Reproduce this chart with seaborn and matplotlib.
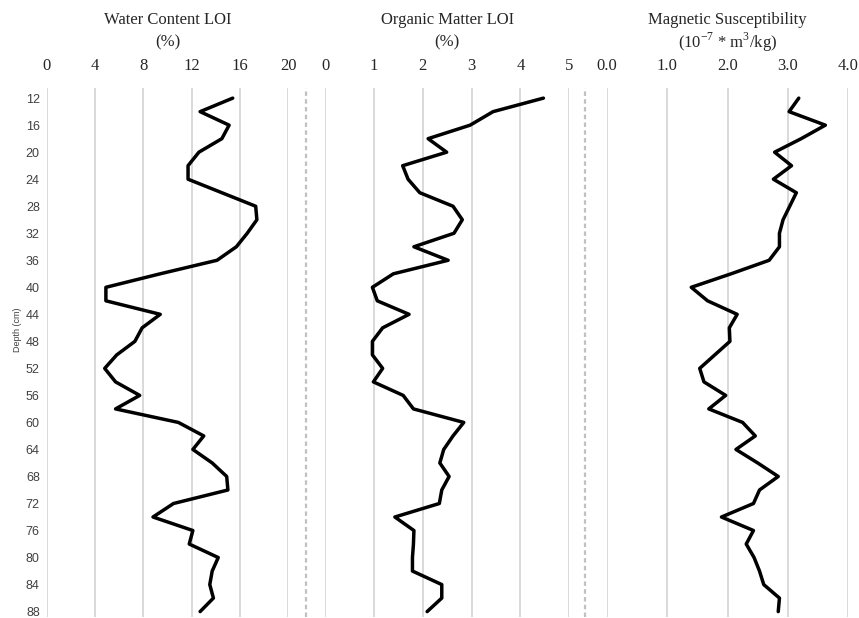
import numpy as np
import pandas as pd
import matplotlib
matplotlib.use("Agg")
import matplotlib.pyplot as plt
import seaborn as sns
from matplotlib.lines import Line2D

# ---------------- data ----------------
depth = list(range(12, 89, 2))
water_content = [15.4, 12.7, 15.1, 14.5, 12.6, 11.7, 11.7, 14.5, 17.3, 17.4,
                 16.6, 15.7, 14.1, 9.4, 4.9, 4.9, 9.4, 7.9, 7.3, 5.8,
                 4.8, 5.7, 7.7, 5.7, 10.9, 13.0, 12.1, 13.7, 14.9, 15.0,
                 10.5, 8.8, 12.1, 11.8, 14.2, 13.7, 13.5, 13.8, 12.7]
organic_matter = [4.47, 3.44, 2.97, 2.11, 2.49, 1.59, 1.70, 1.94, 2.62, 2.81,
                  2.64, 1.82, 2.52, 1.40, 0.97, 1.07, 1.72, 1.18, 0.97, 0.97,
                  1.18, 0.99, 1.60, 1.81, 2.84, 2.62, 2.43, 2.35, 2.54, 2.39,
                  2.34, 1.43, 1.82, 1.81, 1.79, 1.79, 2.39, 2.39, 2.09]
mag_sus = [3.18, 3.02, 3.62, 3.22, 2.78, 3.06, 2.76, 3.14, 3.03, 2.92,
           2.86, 2.86, 2.69, 2.06, 1.40, 1.67, 2.16, 2.03, 2.04, 1.79,
           1.54, 1.61, 1.97, 1.69, 2.25, 2.46, 2.14, 2.50, 2.84, 2.53,
           2.43, 1.90, 2.43, 2.31, 2.44, 2.53, 2.60, 2.86, 2.84]

title_line1 = ["Water Content LOI", "Organic Matter LOI", "Magnetic Susceptibility"]
title_line2 = ["(%)", "(%)",
               "(10$^{\\mathregular{-7}}$ * m$^{\\mathregular{3}}$/kg)"]
x_ticks = [[0, 4, 8, 12, 16, 20], [0, 1, 2, 3, 4, 5], [0, 1, 2, 3, 4]]
x_ticklabels = [["0", "4", "8", "12", "16", "20"],
                ["0", "1", "2", "3", "4", "5"],
                ["0.0", "1.0", "2.0", "3.0", "4.0"]]
depth_ticks = list(range(12, 89, 4))
depth_label = "Depth (cm)"

df = pd.DataFrame({"depth": depth, "wc": water_content,
                   "om": organic_matter, "ms": mag_sus})
cols = ["wc", "om", "ms"]

# ---------------- style ----------------
sns.set_theme(style="white")
plt.rcParams["font.family"] = ["Liberation Serif", "DejaVu Serif"]
plt.rcParams["mathtext.fontset"] = "custom"
plt.rcParams["mathtext.rm"] = "Liberation Serif"
plt.rcParams["axes.unicode_minus"] = False

W, H = 859, 618
fig = plt.figure(figsize=(W / 100, H / 100), dpi=100)

extents = [(46.7, 288.3), (325.0, 569.3), (606.7, 848.3)]
top_px, bot_px = 88, 617
ylim = (88.8, 10.5)

grid_col = "#d9d9d9"
text_col = "#262626"
for i, (l, r) in enumerate(extents):
    ax = fig.add_axes([l / W, 1 - bot_px / H, (r - l) / W, (bot_px - top_px) / H])
    sns.lineplot(data=df, x=cols[i], y="depth", orient="y", sort=False,
                 color="black", linewidth=2.5, ax=ax, estimator=None)
    ax.set_xlim(x_ticks[i][0], x_ticks[i][-1])
    ax.set_ylim(*ylim)
    ax.xaxis.tick_top()
    ax.set_xticks(x_ticks[i])
    ax.set_xticklabels(x_ticklabels[i], fontsize=12, color=text_col)
    ax.tick_params(axis="x", length=0, pad=10)
    for s in ax.spines.values():
        s.set_visible(False)
    ax.grid(axis="x", color=grid_col, linewidth=1.4)
    ax.grid(axis="y", visible=False)
    ax.set_xlabel("")
    ax.set_ylabel("")
    ax.set_yticks(depth_ticks)
    if i == 0:
        ax.set_yticklabels([str(d) for d in depth_ticks], fontsize=9,
                           family="Liberation Sans", color="#404040")
        ax.tick_params(axis="y", length=0, pad=5)
    else:
        ax.set_yticklabels([])
        ax.tick_params(axis="y", length=0)
    cx = (l + r) / 2 / W
    fig.text(cx, 1 - 20 / H, title_line1[i], ha="center", va="center",
             fontsize=12, color=text_col)
    fig.text(cx, 1 - 42 / H, title_line2[i], ha="center", va="center",
             fontsize=12, color=text_col)

for xp in (306, 585):
    fig.add_artist(Line2D([xp / W, xp / W], [1 - bot_px / H, 1 - top_px / H],
                          transform=fig.transFigure, color="#c0c0c0",
                          linewidth=1.6, linestyle=(0, (2, 1.5))))

fig.text(17.5 / W, 1 - 330 / H, depth_label, rotation=90, ha="center",
         va="center", fontsize=6.5, family="Liberation Sans", color="#404040")

fig.savefig("out.png", dpi=100)
